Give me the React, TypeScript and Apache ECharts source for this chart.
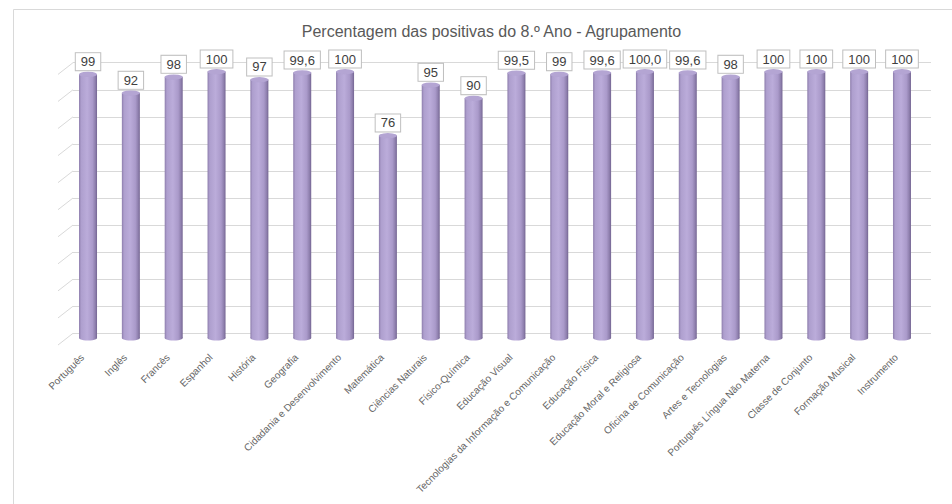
import React, { useEffect, useRef } from "react";
import * as echarts from "echarts";

const chartTitle = "Percentagem das positivas do 8.º Ano - Agrupamento";

const categories = [
  "Português",
  "Inglês",
  "Francês",
  "Espanhol",
  "História",
  "Geografia",
  "Cidadania e Desenvolvimento",
  "Matemática",
  "Ciências Naturais",
  "Físico-Química",
  "Educação Visual",
  "Tecnologias da Informação e Comunicação",
  "Educação Física",
  "Educação Moral e Religiosa",
  "Oficina de Comunicação",
  "Artes e Tecnologias",
  "Português Língua Não Materna",
  "Classe de Conjunto",
  "Formação Musical",
  "Instrumento",
];

const values = [99, 92, 98, 100, 97, 99.6, 100, 76, 95, 90, 99.5, 99, 99.6, 100.0, 99.6, 98, 100, 100, 100, 100];

const valueLabels = ["99", "92", "98", "100", "97", "99,6", "100", "76", "95", "90", "99,5", "99", "99,6", "100,0", "99,6", "98", "100", "100", "100", "100"];

const gridTicks = [0, 10, 20, 30, 40, 50, 60, 70, 80, 90, 100];

const FONT = "'Liberation Sans', Arial, sans-serif";

export default function App() {
  const ref = useRef<HTMLDivElement>(null);

  useEffect(() => {
    if (!ref.current) return;
    const chart = echarts.init(ref.current, null, { renderer: "svg" });

    const barFill = new echarts.graphic.LinearGradient(0, 0, 1, 0, [
      { offset: 0, color: "#8d7dac" },
      { offset: 0.12, color: "#ae9fce" },
      { offset: 0.45, color: "#bbacda" },
      { offset: 0.75, color: "#aa9aca" },
      { offset: 0.9, color: "#8f80ae" },
      { offset: 1, color: "#746592" },
    ]);

    const option: any = {
      animation: false,
      backgroundColor: "#ffffff",
      graphic: [
        {
          type: "rect",
          shape: { x: 13.5, y: 9.5, width: 960, height: 520 },
          style: { fill: "none", stroke: "#d9d9d9", lineWidth: 1 },
          silent: true,
          z: -10,
        },
        {
          type: "text",
          x: 491.5,
          y: 31,
          style: {
            text: chartTitle,
            font: `16px ${FONT}`,
            fill: "#595959",
            textAlign: "center",
            textVerticalAlign: "middle",
          },
        },
      ],
      grid: [
        { left: 73, right: 21, top: 62.7, bottom: 170.7 },
        { left: 66.6, right: 28.6, top: 71.5, bottom: 166 },
      ],
      xAxis: [
        { gridIndex: 0, type: "value", min: 0, max: 1, show: false },
        {
          gridIndex: 1,
          type: "category",
          data: categories,
          axisLine: { show: false },
          axisTick: { show: false },
          axisLabel: {
            interval: 0,
            rotate: 45,
            fontSize: 10,
            fontFamily: FONT,
            color: "#666666",
            margin: 12,
            padding: [0, 8, 0, 0],
          },
        },
      ],
      yAxis: [
        {
          gridIndex: 0,
          type: "value",
          min: 0,
          max: 100,
          interval: 10,
          axisLine: { show: false },
          axisTick: { show: false },
          axisLabel: { show: false },
          splitLine: { lineStyle: { color: "#d9d9d9", width: 1 } },
        },
        { gridIndex: 1, type: "value", min: 0, max: 100, show: false, splitLine: { show: false } },
      ],
      series: [
        {
          type: "custom",
          xAxisIndex: 0,
          yAxisIndex: 0,
          data: gridTicks.map((v) => [0, v]),
          clip: false,
          silent: true,
          renderItem: (params: any, api: any) => {
            const y = api.coord([0, api.value(1)])[1];
            const x = params.coordSys.x;
            return {
              type: "line",
              shape: { x1: x, y1: y, x2: x - 15, y2: y + 11.7 },
              style: { stroke: "#d9d9d9", lineWidth: 1 },
            };
          },
        },
        {
          type: "pictorialBar",
          xAxisIndex: 1,
          yAxisIndex: 1,
          data: values,
          symbol: "circle",
          symbolSize: [18, 5],
          symbolPosition: "start",
          symbolOffset: [0, "50%"],
          barWidth: 18,
          barGap: "-100%",
          itemStyle: { color: barFill },
          z: 2,
          silent: true,
        },
        {
          type: "bar",
          xAxisIndex: 1,
          yAxisIndex: 1,
          data: values,
          barWidth: 18,
          barGap: "-100%",
          itemStyle: { color: barFill },
          z: 3,
          label: {
            show: true,
            position: "top",
            distance: 4,
            formatter: (p: any) => valueLabels[p.dataIndex],
            fontSize: 13,
            fontFamily: FONT,
            color: "#404040",
            backgroundColor: "#ffffff",
            borderColor: "#bfbfbf",
            borderWidth: 1,
            padding: [2, 5, 2, 5],
          },
        },
        {
          type: "pictorialBar",
          xAxisIndex: 1,
          yAxisIndex: 1,
          data: values,
          symbol: "circle",
          symbolSize: [18, 5],
          symbolPosition: "end",
          symbolOffset: [0, "-50%"],
          barWidth: 18,
          barGap: "-100%",
          itemStyle: { color: "#b4a5d3", borderColor: "#8676a6", borderWidth: 0.8 },
          z: 4,
          silent: true,
        },
      ],
    };

    chart.setOption(option);
    return () => chart.dispose();
  }, []);

  return <div ref={ref} style={{ width: 952, height: 504, position: "absolute", left: 0, top: 0 }} />;
}
